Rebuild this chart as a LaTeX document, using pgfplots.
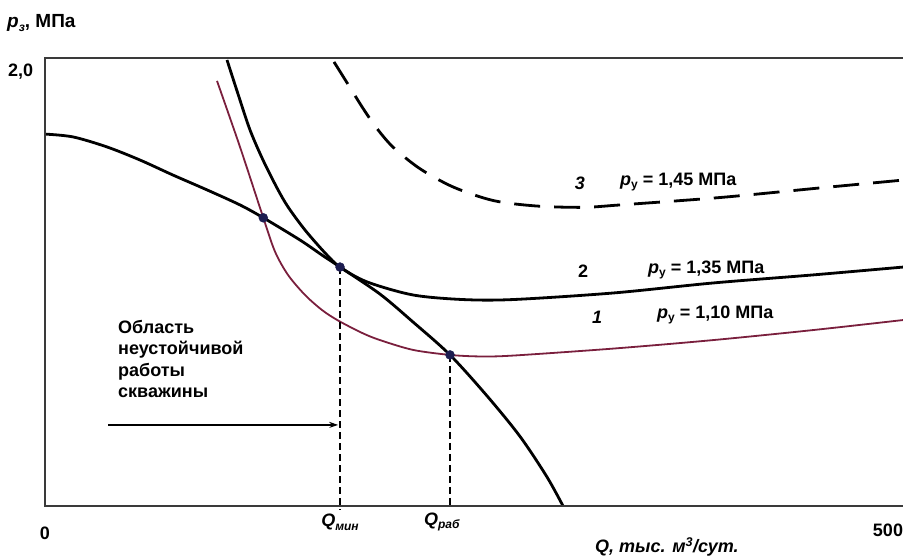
\documentclass[border=0pt]{standalone}
\usepackage{fontspec}
\setmainfont{Liberation Sans}
\usepackage{pgfplots}
\pgfplotsset{compat=1.18}
\usetikzlibrary{arrows.meta}
\definecolor{maroonc}{HTML}{7A1F3D}
\definecolor{dotc}{HTML}{1C1C50}
\definecolor{axc}{HTML}{3A3A3A}
\newcommand{\sub}[1]{\raisebox{-0.4ex}{\fontsize{12}{12}\selectfont #1}}
\begin{document}
\begin{tikzpicture}[x=1pt,y=1pt]
\useasboundingbox (0,0) rectangle (903,555);
\begin{axis}[
  at={(45pt,49pt)}, anchor=south west,
  scale only axis, width=858pt, height=448pt,
  xmin=0, xmax=510.7, ymin=0, ymax=2.055,
  hide axis, clip=false,
]
% curve A (well performance)
\addplot[black, line width=2.8pt, smooth, tension=0.5] coordinates {
(0,1.706)(16.67,1.693)(36.90,1.647)(56.55,1.587)(76.19,1.518)(96.43,1.450)(116.07,1.381)(129.94,1.322)(151.79,1.220)(164.88,1.151)(175.60,1.096)(199.40,0.972)(219.05,0.844)(241.07,0.693)(263.10,0.505)(282.74,0.319)(298.81,0.133)(308.33,0)};
% curve 1
\addplot[maroonc, line width=1.8pt, smooth, tension=0.5] coordinates {
(102.38,1.950)(116.07,1.647)(129.94,1.322)(136.90,1.167)(144.64,1.060)(154.76,0.968)(164.88,0.899)(174.40,0.851)(188.69,0.794)(199.40,0.761)(219.05,0.716)(241.07,0.693)(258.93,0.686)(278.57,0.690)(338.10,0.722)(397.62,0.761)(457.14,0.807)(510.71,0.853)};
% curve 2
\addplot[black, line width=2.8pt, smooth, tension=0.5] coordinates {
(108.33,2.046)(114.88,1.890)(122.02,1.725)(129.76,1.587)(138.10,1.459)(144.64,1.372)(154.76,1.266)(166.67,1.161)(175.60,1.096)(191.67,1.028)(219.05,0.968)(248.81,0.947)(278.57,0.947)(338.10,0.977)(397.62,1.023)(457.14,1.060)(510.71,1.096)};
% curve 3
\addplot[black, line width=2.8pt, smooth, tension=0.5, dash pattern=on 26pt off 14pt] coordinates {
(172.02,2.037)(180.54,1.932)(189.46,1.822)(197.44,1.733)(207.32,1.645)(223.21,1.547)(243.04,1.463)(266.85,1.401)(292.68,1.376)(320.42,1.370)(342.26,1.381)(401.79,1.415)(461.31,1.459)(510.71,1.495)};
% verticals
\addplot[black, line width=1.5pt, dash pattern=on 7pt off 4pt] coordinates {(175.6,1.096)(175.6,-0.02)};
\addplot[black, line width=1.5pt, dash pattern=on 7pt off 4pt] coordinates {(241.07,0.693)(241.07,0)};
% arrow
\addplot[black, line width=1.3pt, -{Stealth[length=9pt,width=6pt]}] coordinates {(37.5,0.372)(174.5,0.372)};
% dots
\addplot[only marks, mark=*, mark size=4.5pt, color=dotc] coordinates {(129.94,1.322)(175.6,1.096)(241.07,0.693)};
\end{axis}
\draw[axc, line width=1.8pt] (45,49) -- (45,497);
\draw[axc, line width=1.8pt] (44.1,497) -- (903,497);
\draw[axc, line width=1.8pt] (44.1,49) -- (903,49);
\begin{scope}[every node/.style={inner sep=0pt, font=\fontsize{18}{21.5}\selectfont\bfseries}]
\node[anchor=west] at (7,532) {\fontsize{19}{21}\selectfont\textit{p}\sub{\textit{з}}, МПа};
\node[anchor=west] at (8,483) {2,0};
\node at (45,22) {0};
\node at (888,25) {500};
\node at (340,33) {\textit{Q}\sub{\textit{мин}}};
\node at (442,33) {\textit{Q}\sub{\textit{раб}}};
\node[anchor=west] at (595,8) {\textit{Q, тыс. м\textsuperscript{3}/сут.}};
\node[anchor=north west, align=left] at (118,235) {Область\\неустойчивой\\работы\\скважины};
\node at (580,372) {\textit{3}};
\node[anchor=west] at (620,373) {\textit{p}\sub{y} = 1,45 МПа};
\node at (583,284) {2};
\node[anchor=west] at (648,285) {\textit{p}\sub{y} = 1,35 МПа};
\node at (597,238) {\textit{1}};
\node[anchor=west] at (657,240) {\textit{p}\sub{y} = 1,10 МПа};
\end{scope}
\end{tikzpicture}
\end{document}
